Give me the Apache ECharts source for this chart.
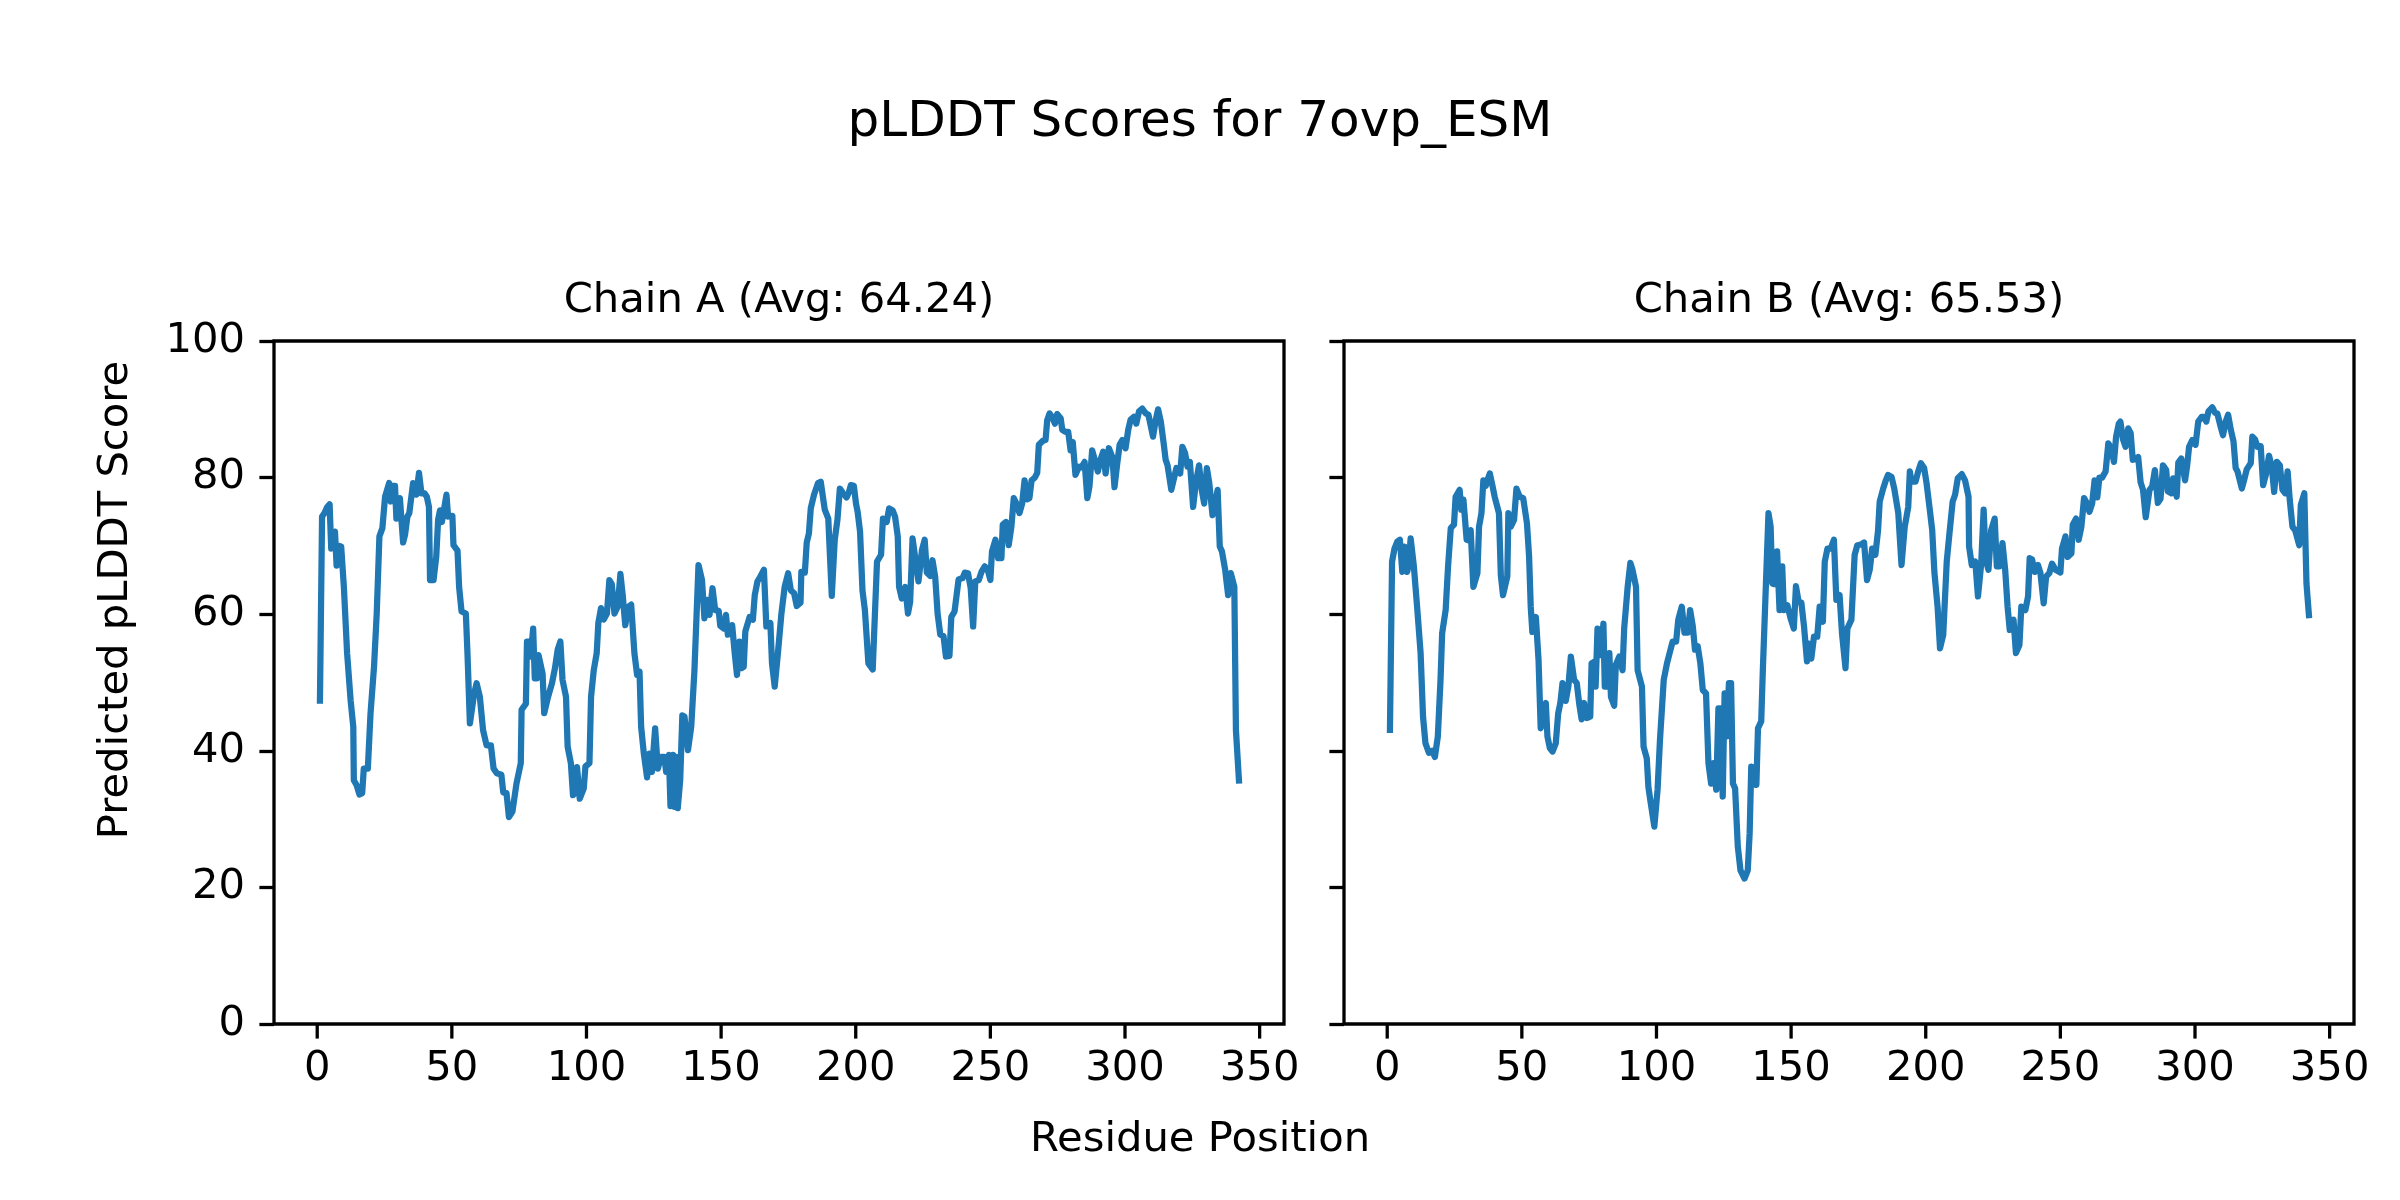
<!DOCTYPE html>
<html><head><meta charset="utf-8">
<script src="https://cdn.jsdelivr.net/npm/echarts@6/dist/echarts.min.js"></script>
<style>html,body{margin:0;padding:0;background:#fff}#c{width:2400px;height:1200px}</style>
</head><body><div id="c"></div>
<script>
const figTitle = 'pLDDT Scores for 7ovp_ESM';
const chainNames = ['Chain A', 'Chain B'];
const chainAvgs = ['64.24', '65.53'];
const xLabel = 'Residue Position';
const yLabel = 'Predicted pLDDT Score';
const xTicks = [0, 50, 100, 150, 200, 250, 300, 350];
const yTicks = [0, 20, 40, 60, 80, 100];

// [residue position, pLDDT]
const chainA = [
[1.0,46.9],[1.8,74.3],[2.7,74.8],[3.7,75.7],[4.6,76.1],[5.2,69.6],[5.9,69.5],[6.6,72.1],[7.2,67.1],[7.9,70.0],
[8.9,69.9],[9.9,64.0],[11.1,54.3],[12.4,47.4],[13.4,43.5],[13.6,35.7],[14.6,35.0],[15.7,33.6],[16.7,33.8],[17.3,37.4],
[18.8,37.4],[19.8,45.5],[21.1,52.3],[22.1,60.1],[23.1,71.4],[24.2,72.6],[25.2,77.2],[26.7,79.2],[27.3,76.5],[28.0,78.8],
[28.9,78.8],[29.4,74.0],[30.1,73.9],[30.7,77.0],[31.2,76.8],[31.9,70.5],[32.6,71.6],[33.5,74.3],[34.2,74.8],[34.8,74.7],
[35.6,79.2],[36.3,79.4],[36.8,77.5],[37.8,80.7],[38.7,77.7],[39.9,77.7],[40.7,77.2],[41.5,75.7],[41.9,65.0],[43.2,65.0],
[44.2,68.4],[44.9,73.8],[45.6,75.2],[46.3,73.5],[48.0,77.5],[48.6,74.3],[50.2,74.4],[50.6,70.1],[52.1,69.3],[52.7,64.0],
[53.6,60.4],[55.2,60.1],[55.8,54.3],[56.7,44.0],[57.4,44.0],[58.3,48.4],[59.2,49.9],[60.4,47.9],[61.6,43.0],[62.9,40.8],
[64.5,40.8],[65.5,37.4],[66.7,36.7],[68.4,36.5],[69.1,33.9],[70.3,33.8],[71.2,30.3],[72.5,31.1],[74.0,35.2],[75.6,38.2],
[75.9,46.0],[77.5,46.9],[77.9,56.0],[78.7,56.0],[79.3,53.8],[80.2,57.9],[80.8,50.6],[81.6,50.6],[82.2,54.0],[82.8,53.8],
[83.7,51.3],[84.3,45.5],[85.6,47.7],[87.2,49.9],[88.3,52.1],[89.3,54.8],[90.3,56.0],[91.1,50.4],[92.4,47.9],[93.0,40.6],
[94.2,38.2],[95.0,33.5],[95.7,33.8],[96.5,37.6],[97.5,33.0],[99.0,34.5],[99.6,37.7],[101.1,38.2],[101.7,47.9],[102.7,51.8],
[103.8,54.3],[104.4,58.7],[105.4,60.9],[106.4,59.2],[107.6,60.1],[108.5,65.0],[109.4,64.4],[110.4,60.1],[111.6,61.1],[112.6,65.9],
[113.5,62.6],[114.4,58.4],[115.1,58.4],[115.6,61.1],[116.6,61.4],[117.8,54.3],[118.8,51.1],[119.7,51.6],[120.3,43.5],[121.3,39.6],
[122.5,36.1],[123.4,39.6],[124.3,36.9],[125.5,43.3],[126.5,37.4],[127.7,39.1],[128.9,39.1],[129.6,36.9],[130.6,39.4],[131.2,31.9],
[132.1,39.4],[132.7,31.8],[133.3,39.1],[133.9,31.6],[134.8,35.7],[135.6,45.2],[136.4,45.0],[137.7,40.1],[138.9,43.5],[140.1,51.8],
[141.6,67.2],[142.9,65.0],[143.8,59.4],[144.8,62.1],[145.7,59.9],[146.8,63.8],[147.8,60.6],[149.1,60.5],[149.7,58.3],[151.0,57.9],
[151.8,59.9],[152.5,57.0],[154.1,58.4],[155.0,54.5],[155.9,51.1],[156.8,56.0],[157.5,52.1],[158.4,52.3],[159.0,57.5],[160.6,59.6],
[161.8,59.2],[162.5,62.8],[163.5,64.8],[164.3,65.3],[165.9,66.5],[166.8,58.2],[168.3,58.7],[168.9,52.8],[169.9,49.4],[171.1,54.3],
[172.4,60.1],[173.6,64.0],[174.9,66.0],[175.9,63.5],[177.1,63.1],[178.1,61.2],[179.5,61.7],[179.8,66.2],[181.1,66.1],[181.8,70.5],
[182.6,71.8],[183.3,75.5],[184.5,77.5],[186.0,79.2],[187.0,79.4],[188.5,75.3],[189.8,74.0],[191.1,62.7],[192.2,70.9],[193.2,73.8],
[194.1,78.4],[195.3,77.7],[196.6,77.1],[197.5,77.9],[198.2,78.9],[199.3,78.8],[200.1,76.2],[200.7,75.0],[201.6,72.1],[202.5,63.5],
[203.4,60.6],[204.7,52.8],[206.3,51.9],[207.9,67.7],[209.4,68.7],[210.1,74.0],[211.5,73.5],[212.4,75.5],[213.7,75.2],[214.6,74.3],
[215.6,71.4],[216.1,64.0],[217.1,62.3],[217.7,62.2],[218.4,64.0],[219.4,60.1],[220.2,61.8],[221.1,71.1],[221.8,70.9],[223.3,64.8],
[224.6,69.4],[225.6,70.9],[226.4,66.1],[227.7,65.6],[228.5,67.9],[229.5,65.5],[230.4,60.1],[231.4,57.0],[232.6,56.8],[233.5,53.8],
[234.8,53.9],[235.5,59.6],[236.7,60.4],[238.2,65.1],[239.7,65.3],[240.5,66.1],[241.7,66.0],[242.7,63.8],[243.6,58.2],[244.4,64.8],
[245.7,65.0],[246.7,66.2],[247.9,67.0],[249.0,66.5],[250.0,65.0],[250.6,69.2],[251.9,70.9],[252.9,68.2],[254.1,68.2],[254.6,73.1],
[255.8,73.5],[256.8,70.1],[257.8,72.8],[258.7,77.0],[259.9,76.0],[260.8,74.8],[261.8,76.2],[262.7,79.6],[263.7,76.8],[264.5,77.0],
[265.3,79.6],[266.5,80.0],[267.4,80.7],[268.0,84.8],[269.5,85.4],[270.5,85.5],[271.1,88.4],[272.0,89.4],[273.0,88.8],[274.0,87.9],
[274.8,89.3],[276.1,88.7],[276.7,87.0],[277.9,86.7],[278.9,86.7],[279.8,84.0],[280.6,85.2],[281.6,80.4],[282.9,81.6],[283.9,81.5],
[285.0,82.3],[286.0,77.0],[286.8,78.7],[287.8,84.0],[288.8,82.6],[289.9,80.9],[290.9,82.6],[291.9,83.8],[292.8,80.6],[294.0,84.3],
[295.3,83.0],[296.1,78.6],[297.1,82.0],[298.0,84.8],[299.0,85.5],[300.2,84.3],[301.2,87.0],[302.1,88.5],[303.3,88.9],[304.2,87.9],
[305.2,89.7],[306.4,90.1],[307.7,89.4],[308.7,89.2],[310.4,86.0],[311.4,88.4],[312.3,90.0],[313.3,88.2],[314.3,85.2],[315.1,82.6],
[315.8,81.8],[317.2,78.2],[318.2,79.9],[319.1,81.4],[320.5,80.6],[321.3,84.5],[322.3,83.6],[323.2,81.6],[324.1,82.3],[324.7,82.1],
[325.3,75.7],[326.3,79.2],[327.5,81.8],[328.5,78.2],[329.4,76.2],[330.4,81.4],[331.3,79.2],[332.5,74.5],[333.5,76.2],[334.4,78.2],
[335.2,69.9],[336.0,69.2],[337.2,66.5],[338.3,62.8],[339.3,66.0],[340.6,64.0],[341.2,43.0],[342.4,35.2]
];

const chainB = [
[1.0,42.6],[1.8,67.7],[2.7,69.6],[3.7,70.6],[4.7,70.9],[5.6,66.2],[6.4,69.9],[7.4,66.2],[7.9,67.0],[8.7,71.1],
[9.9,67.0],[11.1,61.1],[12.4,54.3],[13.3,45.0],[14.2,41.1],[15.5,39.7],[16.7,40.0],[17.7,39.1],[18.8,42.1],[19.8,50.4],
[20.4,57.2],[21.7,60.6],[22.6,67.0],[23.6,72.6],[24.8,73.1],[25.4,77.2],[26.9,78.2],[27.5,75.3],[28.3,76.8],[28.9,76.7],
[29.5,70.9],[30.4,70.8],[31.0,72.3],[32.0,64.0],[32.6,64.8],[33.5,66.0],[34.1,72.8],[35.0,74.8],[35.7,79.6],[36.6,78.8],
[37.2,79.6],[38.1,80.6],[39.1,78.8],[39.9,77.2],[41.5,74.8],[42.2,65.7],[43.0,62.8],[44.6,65.5],[45.0,74.8],[45.9,72.8],
[47.1,73.8],[48.0,78.4],[48.6,78.4],[49.2,77.2],[50.5,77.0],[51.9,73.3],[52.7,68.4],[53.3,61.1],[53.9,57.4],[54.6,57.4],
[55.2,59.6],[56.2,53.3],[57.0,43.3],[58.1,45.5],[58.9,47.0],[59.5,42.1],[60.4,40.4],[61.4,39.9],[62.6,41.1],[63.5,45.5],
[64.3,47.0],[65.1,49.9],[66.3,47.3],[67.3,49.5],[68.2,53.8],[69.4,50.4],[70.4,49.9],[71.3,46.9],[72.2,44.6],[73.1,47.0],
[74.1,44.8],[75.4,45.0],[75.9,52.8],[77.1,53.1],[77.4,49.4],[78.1,57.9],[79.1,54.0],[80.3,58.6],[80.8,49.4],[81.8,49.4],
[82.5,54.3],[83.1,47.9],[84.3,46.6],[84.9,52.6],[86.2,53.8],[87.4,51.8],[88.0,57.9],[89.3,64.0],[90.3,67.5],[91.1,66.5],
[92.4,64.0],[93.0,51.8],[94.6,49.4],[95.2,40.6],[96.4,38.9],[97.0,34.7],[97.7,32.8],[99.2,28.9],[100.4,34.3],[101.3,41.6],
[102.7,50.4],[103.9,52.8],[105.2,54.8],[106.0,56.0],[107.3,56.0],[108.1,59.2],[109.4,61.1],[110.4,57.3],[111.6,57.3],[112.5,60.6],
[113.5,58.2],[114.3,54.8],[115.3,55.3],[116.3,52.8],[117.2,48.9],[118.4,48.4],[119.3,38.2],[120.3,35.2],[121.2,38.2],[122.2,34.3],
[123.0,46.2],[123.8,46.2],[124.6,33.3],[125.3,48.4],[126.1,42.1],[126.9,49.9],[127.7,49.9],[128.4,35.2],[129.2,34.5],[130.2,26.0],
[131.2,22.5],[132.7,21.3],[133.9,22.5],[134.6,27.9],[135.2,37.7],[136.2,37.4],[137.1,35.0],[137.7,43.3],[138.9,44.3],[139.5,51.8],
[140.7,65.0],[141.6,74.8],[142.4,72.8],[143.0,64.5],[143.8,64.4],[144.8,69.2],[145.7,60.6],[146.7,67.0],[147.3,60.6],[148.6,61.3],
[149.8,59.4],[151.0,57.9],[151.8,64.1],[152.8,61.8],[153.8,61.7],[154.8,58.2],[155.9,53.1],[156.6,55.7],[157.5,53.5],[158.5,56.7],
[159.7,56.7],[160.6,61.1],[161.8,58.9],[162.5,67.7],[163.5,69.6],[164.7,69.6],[165.9,70.9],[166.8,62.1],[168.0,62.8],[168.9,57.2],
[170.2,52.1],[170.9,57.9],[172.4,59.2],[173.6,68.7],[174.6,70.1],[175.9,70.2],[177.1,70.5],[178.2,65.0],[179.2,66.5],[180.1,69.6],
[181.3,68.7],[182.3,72.3],[182.9,76.5],[184.2,78.4],[185.0,79.4],[186.0,80.4],[187.3,80.1],[188.3,78.4],[189.8,74.8],[191.0,67.2],
[192.2,72.8],[193.5,75.7],[194.1,80.9],[194.7,79.4],[196.2,79.4],[197.2,80.9],[198.2,82.1],[199.4,81.4],[200.3,79.2],[201.5,75.3],
[202.4,72.3],[203.2,66.2],[204.4,61.1],[205.3,55.0],[206.5,57.0],[207.8,67.7],[208.8,71.8],[210.0,76.5],[210.9,77.5],[211.9,79.9],
[213.4,80.5],[214.6,79.6],[215.9,77.2],[216.1,69.9],[217.1,67.2],[218.4,67.7],[219.4,62.6],[220.6,67.4],[221.5,75.3],[222.3,67.9],
[223.3,66.5],[224.3,72.3],[225.6,74.0],[226.4,67.0],[227.4,67.0],[228.5,70.4],[229.5,66.5],[230.4,61.1],[231.2,57.7],[232.6,59.2],
[233.5,54.3],[234.8,55.5],[235.5,61.1],[237.0,60.6],[238.0,62.6],[238.6,68.2],[239.5,68.0],[240.5,66.2],[241.7,67.2],[242.6,66.0],
[243.8,61.6],[244.7,65.5],[245.9,66.0],[246.9,67.4],[248.2,66.5],[250.0,66.1],[250.6,69.6],[251.9,71.4],[252.7,68.4],[254.1,68.9],
[254.6,73.1],[255.8,74.0],[256.8,70.9],[257.8,72.8],[258.8,77.0],[259.9,76.2],[260.8,75.0],[261.8,76.2],[262.7,79.6],[263.7,77.1],
[264.5,80.0],[265.5,80.0],[266.8,80.9],[267.8,85.0],[268.9,84.3],[269.9,82.3],[270.7,86.0],[271.7,87.9],[272.3,88.2],[273.2,85.7],
[274.2,84.5],[275.2,87.2],[276.1,86.5],[276.9,82.6],[277.9,82.7],[278.9,83.0],[279.8,79.3],[280.7,78.2],[281.7,74.2],[283.1,78.2],
[284.1,78.7],[285.1,81.1],[286.2,76.3],[287.2,76.9],[288.1,81.8],[289.3,81.1],[289.9,78.0],[291.2,77.7],[291.9,79.9],[292.5,79.7],
[293.2,77.2],[293.8,82.2],[294.9,82.8],[296.3,79.6],[297.1,81.8],[297.8,84.5],[299.0,85.5],[300.2,84.8],[301.2,88.2],[302.5,88.9],
[303.3,88.9],[304.2,88.2],[305.0,89.7],[306.4,90.3],[307.4,89.5],[308.3,89.4],[309.5,87.5],[310.4,86.2],[311.4,88.2],[312.3,89.2],
[313.3,87.0],[314.3,85.3],[315.1,81.4],[315.8,80.9],[317.4,78.4],[318.2,79.6],[319.2,81.2],[320.7,82.1],[321.3,86.0],[322.3,85.6],
[323.2,84.5],[324.4,84.6],[325.3,78.9],[326.3,80.4],[327.5,83.2],[328.5,81.6],[329.4,77.9],[330.4,82.3],[331.5,81.8],[332.5,78.2],
[333.5,77.7],[334.4,80.9],[335.2,76.7],[336.2,72.8],[337.2,72.3],[338.7,70.1],[339.3,76.0],[340.6,77.7],[341.4,64.5],[342.4,59.4]
];

const FONT = '"DejaVu Sans", "Liberation Sans", sans-serif';
const FS = 41.7;
const LINE = '#1f77b4';
const TICK_LEN = 14.6;
const TICK_W = 3.3;
const grids = [
  { left: 274, top: 341, width: 1010, height: 683 },
  { left: 1344, top: 341, width: 1010, height: 683 }
];

function mkX(i) {
  return {
    type: 'value', gridIndex: i, min: -16.05, max: 359.05,
    splitLine: { show: false },
    axisLine: { show: false, onZero: false },
    axisTick: { show: false },
    axisLabel: { show: true, customValues: xTicks, margin: 24, color: '#000',
      fontSize: FS, fontFamily: FONT }
  };
}
function mkY(i) {
  return {
    type: 'value', gridIndex: i, min: 0, max: 100, interval: 20,
    splitLine: { show: false },
    axisLine: { show: false, onZero: false },
    axisTick: { show: true, inside: false, length: TICK_LEN,
      lineStyle: { color: '#000', width: TICK_W } },
    axisLabel: { show: i === 0, margin: 29, color: '#000',
      fontSize: FS, fontFamily: FONT }
  };
}

function textStyle(text, size) {
  return { text: text, font: size + 'px ' + FONT, fill: '#000',
    textAlign: 'center', align: 'center', textVerticalAlign: 'middle', verticalAlign: 'middle' };
}

const chart = echarts.init(document.getElementById('c'), null, { renderer: 'canvas' });
const baseGraphics = [
  { type: 'text', x: 1200, y: 123, silent: true, style: textStyle(figTitle, 50) },
  { type: 'text', x: grids[0].left + grids[0].width / 2, y: 301, silent: true,
    style: textStyle(chainNames[0] + ' (Avg: ' + chainAvgs[0] + ')', FS) },
  { type: 'text', x: grids[1].left + grids[1].width / 2, y: 301, silent: true,
    style: textStyle(chainNames[1] + ' (Avg: ' + chainAvgs[1] + ')', FS) },
  { type: 'text', x: 1200, y: 1140, silent: true, style: textStyle(xLabel, FS) },
  { type: 'text', x: 116, y: 600, rotation: Math.PI / 2, silent: true, style: textStyle(yLabel, FS) }
];

chart.setOption({
  animation: false,
  backgroundColor: '#fff',
  grid: grids.map(g => Object.assign({ show: true, borderColor: '#000', borderWidth: 3.3,
    backgroundColor: 'transparent' }, g)),
  xAxis: [mkX(0), mkX(1)],
  yAxis: [mkY(0), mkY(1)],
  series: [chainA, chainB].map((d, i) => ({
    type: 'line', xAxisIndex: i, yAxisIndex: i, data: d,
    showSymbol: false, symbol: 'none', silent: true,
    lineStyle: { color: LINE, width: 6.25, join: 'round', cap: 'butt' }
  })),
  graphic: baseGraphics
});

// x-axis tick marks, positioned through each grid's own x scale
const tickGraphics = [];
[0, 1].forEach(gi => {
  xTicks.forEach(v => {
    const p = chart.convertToPixel({ xAxisIndex: gi, yAxisIndex: gi }, [v, 0]);
    tickGraphics.push({ type: 'line', silent: true,
      shape: { x1: p[0], y1: p[1], x2: p[0], y2: p[1] + TICK_LEN },
      style: { stroke: '#000', lineWidth: TICK_W } });
  });
});
chart.setOption({ graphic: baseGraphics.concat(tickGraphics) });
</script>
</body></html>
